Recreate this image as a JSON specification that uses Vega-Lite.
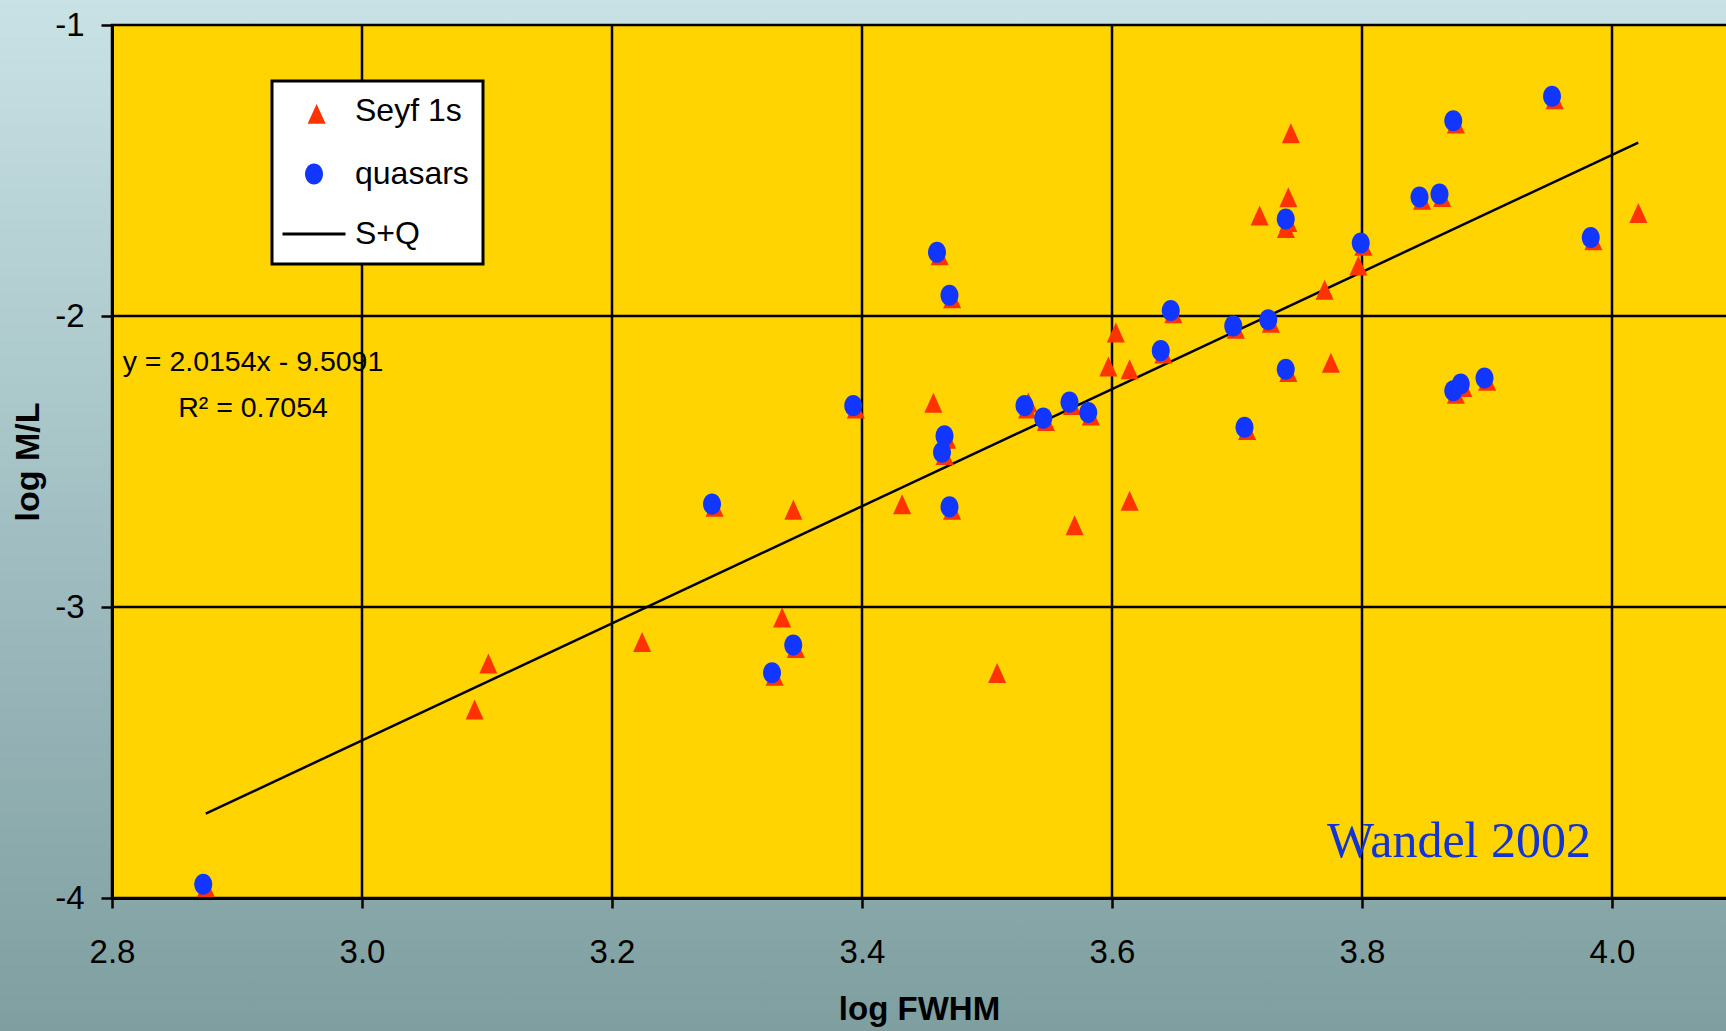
{
  "$schema": "https://vega.github.io/schema/vega-lite/v6.json",
  "width": 1614,
  "height": 873,
  "autosize": {"type": "none"},
  "padding": {"left": 112, "top": 25, "right": 0, "bottom": 133},
  "background": "#a3c0c3",
  "config": {
    "view": {"stroke": null, "fill": null},
    "axis": {
      "zindex": 1, "grid": false,
      "domainColor": "black", "domainWidth": 3,
      "tickColor": "black", "tickWidth": 2.5,
      "labelFont": "Liberation Sans, Arial, sans-serif",
      "labelFontSize": 33, "labelColor": "black",
      "labelFlush": false, "labelOverlap": false,
      "titleFont": "Liberation Sans, Arial, sans-serif",
      "titleFontWeight": "bold", "titleColor": "black"
    },
    "axisX": {"tickSize": 10, "labelPadding": 28, "titleFontSize": 33, "titlePadding": 24},
    "axisY": {"tickSize": 11, "labelPadding": 17, "titleFontSize": 34, "titlePadding": 9}
  },
  "datasets": {
    "points": [
      {"series": "Seyf 1s", "fwhm": 2.873, "ml": -3.953},
      {"series": "Seyf 1s", "fwhm": 3.280, "ml": -2.646},
      {"series": "Seyf 1s", "fwhm": 3.328, "ml": -3.226},
      {"series": "Seyf 1s", "fwhm": 3.345, "ml": -3.131},
      {"series": "Seyf 1s", "fwhm": 3.393, "ml": -2.308},
      {"series": "Seyf 1s", "fwhm": 3.460, "ml": -1.781},
      {"series": "Seyf 1s", "fwhm": 3.470, "ml": -1.929},
      {"series": "Seyf 1s", "fwhm": 3.466, "ml": -2.412},
      {"series": "Seyf 1s", "fwhm": 3.464, "ml": -2.468},
      {"series": "Seyf 1s", "fwhm": 3.470, "ml": -2.656},
      {"series": "Seyf 1s", "fwhm": 3.530, "ml": -2.308},
      {"series": "Seyf 1s", "fwhm": 3.545, "ml": -2.351},
      {"series": "Seyf 1s", "fwhm": 3.566, "ml": -2.296},
      {"series": "Seyf 1s", "fwhm": 3.581, "ml": -2.332},
      {"series": "Seyf 1s", "fwhm": 3.639, "ml": -2.119},
      {"series": "Seyf 1s", "fwhm": 3.647, "ml": -1.981},
      {"series": "Seyf 1s", "fwhm": 3.697, "ml": -2.034},
      {"series": "Seyf 1s", "fwhm": 3.706, "ml": -2.382},
      {"series": "Seyf 1s", "fwhm": 3.725, "ml": -2.013},
      {"series": "Seyf 1s", "fwhm": 3.739, "ml": -1.667},
      {"series": "Seyf 1s", "fwhm": 3.739, "ml": -2.183},
      {"series": "Seyf 1s", "fwhm": 3.799, "ml": -1.749},
      {"series": "Seyf 1s", "fwhm": 3.846, "ml": -1.591},
      {"series": "Seyf 1s", "fwhm": 3.862, "ml": -1.581},
      {"series": "Seyf 1s", "fwhm": 3.873, "ml": -1.329},
      {"series": "Seyf 1s", "fwhm": 3.873, "ml": -2.257},
      {"series": "Seyf 1s", "fwhm": 3.879, "ml": -2.234},
      {"series": "Seyf 1s", "fwhm": 3.898, "ml": -2.213},
      {"series": "Seyf 1s", "fwhm": 3.952, "ml": -1.245},
      {"series": "Seyf 1s", "fwhm": 3.983, "ml": -1.730},
      {"series": "Seyf 1s", "fwhm": 3.088, "ml": -3.342},
      {"series": "Seyf 1s", "fwhm": 3.099, "ml": -3.184},
      {"series": "Seyf 1s", "fwhm": 3.222, "ml": -3.110},
      {"series": "Seyf 1s", "fwhm": 3.334, "ml": -3.026},
      {"series": "Seyf 1s", "fwhm": 3.343, "ml": -2.656},
      {"series": "Seyf 1s", "fwhm": 3.430, "ml": -2.637},
      {"series": "Seyf 1s", "fwhm": 3.455, "ml": -2.288},
      {"series": "Seyf 1s", "fwhm": 3.506, "ml": -3.217},
      {"series": "Seyf 1s", "fwhm": 3.531, "ml": -2.287},
      {"series": "Seyf 1s", "fwhm": 3.568, "ml": -2.709},
      {"series": "Seyf 1s", "fwhm": 3.595, "ml": -2.164},
      {"series": "Seyf 1s", "fwhm": 3.601, "ml": -2.047},
      {"series": "Seyf 1s", "fwhm": 3.612, "ml": -2.173},
      {"series": "Seyf 1s", "fwhm": 3.612, "ml": -2.625},
      {"series": "Seyf 1s", "fwhm": 3.716, "ml": -1.645},
      {"series": "Seyf 1s", "fwhm": 3.737, "ml": -1.688},
      {"series": "Seyf 1s", "fwhm": 3.739, "ml": -1.582},
      {"series": "Seyf 1s", "fwhm": 3.741, "ml": -1.362},
      {"series": "Seyf 1s", "fwhm": 3.768, "ml": -1.900},
      {"series": "Seyf 1s", "fwhm": 3.773, "ml": -2.151},
      {"series": "Seyf 1s", "fwhm": 3.795, "ml": -1.817},
      {"series": "Seyf 1s", "fwhm": 4.019, "ml": -1.636},
      {"series": "quasars", "fwhm": 2.873, "ml": -3.953},
      {"series": "quasars", "fwhm": 3.280, "ml": -2.646},
      {"series": "quasars", "fwhm": 3.328, "ml": -3.226},
      {"series": "quasars", "fwhm": 3.345, "ml": -3.131},
      {"series": "quasars", "fwhm": 3.393, "ml": -2.308},
      {"series": "quasars", "fwhm": 3.460, "ml": -1.781},
      {"series": "quasars", "fwhm": 3.470, "ml": -1.929},
      {"series": "quasars", "fwhm": 3.466, "ml": -2.412},
      {"series": "quasars", "fwhm": 3.464, "ml": -2.468},
      {"series": "quasars", "fwhm": 3.470, "ml": -2.656},
      {"series": "quasars", "fwhm": 3.530, "ml": -2.308},
      {"series": "quasars", "fwhm": 3.545, "ml": -2.351},
      {"series": "quasars", "fwhm": 3.566, "ml": -2.296},
      {"series": "quasars", "fwhm": 3.581, "ml": -2.332},
      {"series": "quasars", "fwhm": 3.639, "ml": -2.119},
      {"series": "quasars", "fwhm": 3.647, "ml": -1.981},
      {"series": "quasars", "fwhm": 3.697, "ml": -2.034},
      {"series": "quasars", "fwhm": 3.706, "ml": -2.382},
      {"series": "quasars", "fwhm": 3.725, "ml": -2.013},
      {"series": "quasars", "fwhm": 3.739, "ml": -1.667},
      {"series": "quasars", "fwhm": 3.739, "ml": -2.183},
      {"series": "quasars", "fwhm": 3.799, "ml": -1.749},
      {"series": "quasars", "fwhm": 3.846, "ml": -1.591},
      {"series": "quasars", "fwhm": 3.862, "ml": -1.581},
      {"series": "quasars", "fwhm": 3.873, "ml": -1.329},
      {"series": "quasars", "fwhm": 3.873, "ml": -2.257},
      {"series": "quasars", "fwhm": 3.879, "ml": -2.234},
      {"series": "quasars", "fwhm": 3.898, "ml": -2.213},
      {"series": "quasars", "fwhm": 3.952, "ml": -1.245},
      {"series": "quasars", "fwhm": 3.983, "ml": -1.730}
    ],
    "fit": [
      {"fx": 2.875, "fy": -3.710},
      {"fx": 4.021, "fy": -1.404}
    ],
    "xgrid": [{"gx": 3.0}, {"gx": 3.2}, {"gx": 3.4}, {"gx": 3.6}, {"gx": 3.8}, {"gx": 4.0}],
    "ygrid": [{"gy": -2}, {"gy": -3}]
  },
  "layer": [
    {
      "data": {"values": [{}]},
      "mark": {
        "type": "rect",
        "clip": false,
        "fill": {
          "gradient": "linear", "x1": 0, "y1": 0, "x2": 0, "y2": 1,
          "stops": [
            {"offset": 0, "color": "#c9e2e5"},
            {"offset": 0.5, "color": "#a2c0c3"},
            {"offset": 1, "color": "#7f9ea0"}
          ]
        }
      },
      "encoding": {
        "x": {"datum": 2.70, "type": "quantitative", "scale": {"domain": [2.8, 4.0912], "nice": false, "zero": false}},
        "x2": {"datum": 4.10},
        "y": {"datum": -0.90, "type": "quantitative", "scale": {"domain": [-4, -1], "nice": false, "zero": false}},
        "y2": {"datum": -4.47}
      }
    },
    {
      "data": {"values": [{}]},
      "mark": {"type": "rect", "clip": false, "fill": "#ffd400", "stroke": "black", "strokeWidth": 2.5},
      "encoding": {
        "x": {"datum": 2.8, "type": "quantitative"},
        "x2": {"datum": 4.2},
        "y": {"datum": -1, "type": "quantitative"},
        "y2": {"datum": -4}
      }
    },
    {
      "data": {"name": "xgrid"},
      "mark": {"type": "rule", "color": "black", "strokeWidth": 2.5},
      "encoding": {
        "x": {"field": "gx", "type": "quantitative"}
      }
    },
    {
      "data": {"name": "ygrid"},
      "mark": {"type": "rule", "color": "black", "strokeWidth": 2.5},
      "encoding": {
        "y": {"field": "gy", "type": "quantitative"}
      }
    },
    {
      "data": {"name": "fit"},
      "mark": {"type": "line", "color": "black", "strokeWidth": 2.5},
      "encoding": {
        "x": {"field": "fx", "type": "quantitative"},
        "y": {"field": "fy", "type": "quantitative"}
      }
    },
    {
      "data": {"name": "points"},
      "mark": {"type": "point", "filled": true, "size": 324, "opacity": 1},
      "encoding": {
        "x": {
          "field": "fwhm", "type": "quantitative",
          "axis": {
            "values": [2.8, 3.0, 3.2, 3.4, 3.6, 3.8, 4.0],
            "format": ".1f",
            "title": "log FWHM",
            "zindex": 1
          }
        },
        "y": {
          "field": "ml", "type": "quantitative",
          "axis": {
            "values": [-4, -3, -2, -1],
            "format": "d",
            "labelExpr": "replace(datum.label, '\u2212', '-')",
            "title": "log M/L",
            "zindex": 1
          }
        },
        "fill": {
          "field": "series", "type": "nominal",
          "scale": {"domain": ["Seyf 1s", "quasars", "S+Q"], "range": ["#ff3300", "#1036ff", "#000000"]},
          "legend": {"title": null, "orient": "none", "legendX": 160, "legendY": 56, "padding": 14, "fillColor": "white", "strokeColor": "black", "labelFont": "Liberation Sans, Arial, sans-serif", "labelFontSize": 32, "labelColor": "black", "labelLimit": 0, "labelOffset": 25, "symbolOffset": 12, "rowPadding": 27, "symbolSize": 324, "symbolStrokeWidth": 3, "symbolOpacity": 1, "zindex": 1, "encode": {"legend": {"update": {"strokeWidth": {"value": 3}}}}}
        },
        "stroke": {
          "field": "series", "type": "nominal",
          "scale": {"domain": ["Seyf 1s", "quasars", "S+Q"], "range": ["transparent", "transparent", "#000000"]},
          "legend": {"title": null, "orient": "none", "legendX": 160, "legendY": 56, "padding": 14, "fillColor": "white", "strokeColor": "black", "labelFont": "Liberation Sans, Arial, sans-serif", "labelFontSize": 32, "labelColor": "black", "labelLimit": 0, "labelOffset": 25, "symbolOffset": 12, "rowPadding": 27, "symbolSize": 324, "symbolStrokeWidth": 3, "symbolOpacity": 1, "zindex": 1, "encode": {"legend": {"update": {"strokeWidth": {"value": 3}}}}}
        },
        "shape": {
          "field": "series", "type": "nominal",
          "scale": {"domain": ["Seyf 1s", "quasars", "S+Q"], "range": ["M-0.71,1.43L1.29,1.43L0.29,-0.79Z", "M-1,0A1,1.17,0,1,1,1,0A1,1.17,0,1,1,-1,0Z", "M-3.5,0L3.5,0"]},
          "legend": {"title": null, "orient": "none", "legendX": 160, "legendY": 56, "padding": 14, "fillColor": "white", "strokeColor": "black", "labelFont": "Liberation Sans, Arial, sans-serif", "labelFontSize": 32, "labelColor": "black", "labelLimit": 0, "labelOffset": 25, "symbolOffset": 12, "rowPadding": 27, "symbolSize": 324, "symbolStrokeWidth": 3, "symbolOpacity": 1, "zindex": 1, "encode": {"legend": {"update": {"strokeWidth": {"value": 3}}}}}
        }
      }
    },
    {
      "data": {"values": [{}]},
      "mark": {"type": "text", "align": "center", "baseline": "alphabetic", "font": "Liberation Sans, Arial, sans-serif", "fontSize": 28.5, "color": "black"},
      "encoding": {
        "x": {"datum": 2.9128, "type": "quantitative"},
        "y": {"datum": -2.1907, "type": "quantitative"},
        "text": {"value": "y = 2.0154x - 9.5091"}
      }
    },
    {
      "data": {"values": [{}]},
      "mark": {"type": "text", "align": "center", "baseline": "alphabetic", "font": "Liberation Sans, Arial, sans-serif", "fontSize": 28.5, "color": "black"},
      "encoding": {
        "x": {"datum": 2.9128, "type": "quantitative"},
        "y": {"datum": -2.3476, "type": "quantitative"},
        "text": {"value": "R² = 0.7054"}
      }
    },
    {
      "data": {"values": [{}]},
      "mark": {"type": "text", "align": "right", "baseline": "alphabetic", "font": "Liberation Serif, Times New Roman, serif", "fontSize": 50, "color": "#1233d6"},
      "encoding": {
        "x": {"datum": 3.9832, "type": "quantitative"},
        "y": {"datum": -3.8598, "type": "quantitative"},
        "text": {"value": "Wandel 2002"}
      }
    }
  ]
}
